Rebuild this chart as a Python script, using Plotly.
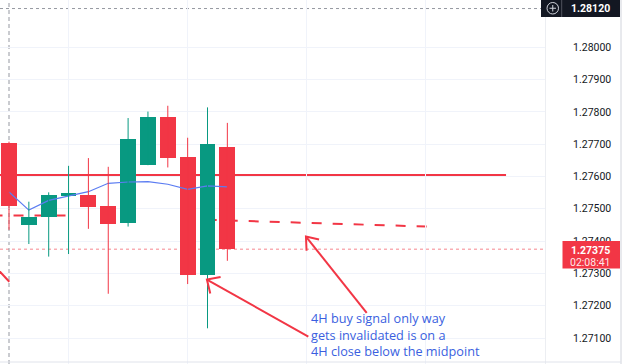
import plotly.graph_objects as go

# ---- data ----
idx = list(range(12))
opens  = [1.27705, 1.27450, 1.27474, 1.27542, 1.27543, 1.27509, 1.27455, 1.27635, 1.27783, 1.27659, 1.27295, 1.27692]
highs  = [1.27708, 1.27522, 1.27551, 1.27633, 1.27657, 1.27630, 1.27781, 1.27801, 1.27819, 1.27720, 1.27814, 1.27766]
lows   = [1.27435, 1.27391, 1.27352, 1.27360, 1.27438, 1.27237, 1.27445, 1.27635, 1.27628, 1.27267, 1.27130, 1.27339]
closes = [1.27510, 1.27474, 1.27543, 1.27548, 1.27506, 1.27452, 1.27716, 1.27783, 1.27658, 1.27295, 1.27701, 1.27375]
ma     = [1.27552, 1.27496, 1.27526, 1.27540, 1.27553, 1.27579, 1.27583, 1.27584, 1.27576, 1.27560, 1.27571, 1.27568]

tick_vals = [1.271, 1.272, 1.273, 1.274, 1.275, 1.276, 1.277, 1.278, 1.279, 1.280]
tick_text = ["1.27100", "1.27200", "1.27300", "1.27400", "1.27500", "1.27600", "1.27700", "1.27800", "1.27900", "1.28000"]
x_grid = [3, 9, 15, 21]

midpoint_level = 1.27605
dash_left = [(-0.83, 1.27479), (2.85, 1.27479)]
dash_right = [(9.96, 1.27466), (21.04, 1.27445)]
last_price = 1.27375
last_price_txt = "1.27375"
countdown_txt = "02:08:41"
cross_price = 1.28120
cross_price_txt = "1.28120"
cross_idx = 0

note_text = "4H buy signal only way<br>gets invalidated is on a<br>4H close below the midpoint"
note_price = 1.27110
note_x = 15.13

# arrows: list of polylines (index, price)
arrows = [
    [(15.08, 1.27104), (9.97, 1.27281)],
    [(10.66, 1.27289), (9.97, 1.27281), (10.14, 1.27238)],
    [(18.02, 1.27178), (14.96, 1.27414)],
    [(15.62, 1.27405), (14.96, 1.27414), (14.99, 1.27370)],
    [(-1.0, 1.27342), (0.015, 1.27274)],
]

GREEN = "#089981"
RED = "#f23645"

fig = go.Figure()

# moving average (drawn below candles)
fig.add_trace(go.Scatter(x=idx, y=ma, mode="lines", line=dict(color="#5b7cf2", width=1.2),
                         hoverinfo="skip", showlegend=False))

# wicks
for col, cond in ((GREEN, True), (RED, False)):
    wx, wy = [], []
    for i in idx:
        if (closes[i] >= opens[i]) == cond:
            wx += [i, i, None]
            wy += [lows[i], highs[i], None]
    fig.add_trace(go.Scatter(x=wx, y=wy, mode="lines", line=dict(color=col, width=1),
                             hoverinfo="skip", showlegend=False))

# bodies
base = [min(o, c) for o, c in zip(opens, closes)]
height = [max(abs(c - o), 0.00003) for o, c in zip(opens, closes)]
colors = [GREEN if c >= o else RED for o, c in zip(opens, closes)]
fig.add_trace(go.Bar(x=idx, y=height, base=base, width=0.8, marker=dict(color=colors, line=dict(width=0)),
                     hoverinfo="skip", showlegend=False))

shapes = []
# midpoint solid line
shapes.append(dict(type="line", xref="x", yref="y", x0=-0.46, x1=25.04, y0=midpoint_level, y1=midpoint_level,
                   line=dict(color=RED, width=2), layer="below"))
for seg in (dash_left, dash_right):
    shapes.append(dict(type="line", xref="x", yref="y", x0=seg[0][0], y0=seg[0][1], x1=seg[1][0], y1=seg[1][1],
                       line=dict(color=RED, width=2, dash="10px,11px"), layer="below"))
# last price dotted line
shapes.append(dict(type="line", xref="paper", yref="y", x0=0, x1=1, y0=last_price, y1=last_price,
                   line=dict(color="rgba(242,54,69,0.6)", width=1, dash="dot"), layer="below"))
# crosshair
shapes.append(dict(type="line", xref="x", yref="paper", x0=cross_idx, x1=cross_idx, y0=0, y1=1,
                   line=dict(color="#9598a1", width=1, dash="4px,3px"), layer="below"))
shapes.append(dict(type="line", xref="paper", yref="y", x0=0, x1=541/545, y0=cross_price, y1=cross_price,
                   line=dict(color="#9598a1", width=1, dash="3px,3px"), layer="below"))
# arrows
for poly in arrows:
    path = "M " + " L ".join(f"{x},{y}" for x, y in poly)
    shapes.append(dict(type="path", xref="x", yref="y", path=path, line=dict(color=RED, width=2)))
# borders
shapes.append(dict(type="line", xref="paper", yref="paper", x0=621/545, x1=621/545, y0=0, y1=1,
                   line=dict(color="#d1d4dc", width=1)))
shapes.append(dict(type="line", xref="paper", yref="paper", x0=0, x1=621/545, y0=1 - 362/364, y1=1 - 362/364,
                   line=dict(color="#e0e3eb", width=1)))
# last price box
shapes.append(dict(type="rect", xref="paper", yref="paper", x0=562.5/545, x1=620/545,
                   y0=1 - 268.5/364, y1=1 - 241/364, fillcolor=RED, line=dict(width=0)))
# crosshair price box
shapes.append(dict(type="rect", xref="paper", yref="paper", x0=541/545, x1=620/545,
                   y0=1 - 17/364, y1=1, fillcolor="#131722", line=dict(width=0)))
shapes.append(dict(type="line", xref="paper", yref="paper", x0=561.7/545, x1=561.7/545,
                   y0=1 - 17/364, y1=1, line=dict(color="#50535e", width=1)))
shapes.append(dict(type="circle", xref="paper", yref="paper", x0=547/545, x1=558.5/545,
                   y0=1 - 14/364, y1=1 - 2.5/364, line=dict(color="#d1d4dc", width=1)))
shapes.append(dict(type="line", xref="paper", yref="paper", x0=549.5/545, x1=556/545,
                   y0=1 - 8.25/364, y1=1 - 8.25/364, line=dict(color="#d1d4dc", width=1)))
shapes.append(dict(type="line", xref="paper", yref="paper", x0=552.75/545, x1=552.75/545,
                   y0=1 - 11.5/364, y1=1 - 5/364, line=dict(color="#d1d4dc", width=1)))

annotations = []
annotations.append(dict(x=note_x, y=note_price, xref="x", yref="y", text=note_text, showarrow=False,
                        xanchor="left", yanchor="middle", align="left",
                        font=dict(family="Open Sans", size=12.7, color="#3a5fe0")))
annotations.append(dict(x=591/545, y=1 - 250.5/364, xref="paper", yref="paper", text=f"<b>{last_price_txt}</b>",
                        showarrow=False, xanchor="center", yanchor="middle",
                        font=dict(family="Roboto", size=10.5, color="white")))
annotations.append(dict(x=591/545, y=1 - 262.3/364, xref="paper", yref="paper", text=countdown_txt,
                        showarrow=False, xanchor="center", yanchor="middle",
                        font=dict(family="Roboto", size=10.5, color="rgba(255,255,255,0.9)")))
annotations.append(dict(x=590.5/545, y=1 - 8/364, xref="paper", yref="paper", text=f"<b>{cross_price_txt}</b>",
                        showarrow=False, xanchor="center", yanchor="middle",
                        font=dict(family="Roboto", size=10.5, color="white")))

fig.update_layout(
    width=625, height=364, margin=dict(l=0, r=80, t=0, b=0),
    paper_bgcolor="white", plot_bgcolor="white",
    showlegend=False, shapes=shapes, annotations=annotations,
    xaxis=dict(range=[-9/19.85, 536/19.85], tickvals=x_grid, showticklabels=False, showgrid=True,
               gridcolor="#f0f3fa", zeroline=False, showline=False, fixedrange=True),
    yaxis=dict(side="right", range=[1.28 - 316.7/32300, 1.28 + 47.3/32300], tickvals=tick_vals, ticktext=tick_text,
               showgrid=True, gridcolor="#f0f3fa", zeroline=False, showline=True, linecolor="#eceef2",
               ticks="", ticklabelstandoff=25, tickfont=dict(family="Roboto", size=10.5, color="#131722")),
    bargap=0,
)

fig.write_html("out.html")
